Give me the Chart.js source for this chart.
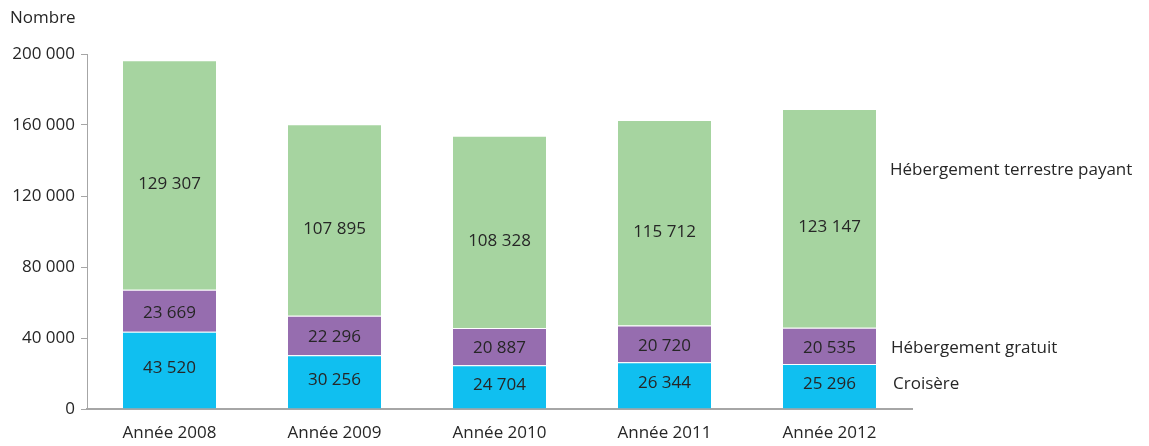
<!DOCTYPE html>
<html lang="fr">
<head>
    <meta charset="UTF-8">
    <title>Nombre de visiteurs par type d'hébergement</title>
    <script src="https://cdn.jsdelivr.net/npm/chart.js"></script>
    <style>
        html, body {
            margin: 0;
            padding: 0;
            background: #fff;
        }
        .chart-container {
            width: 1149px;
            height: 446px;
            position: relative;
        }
    </style>
</head>
<body>
    <div class="chart-container">
        <canvas id="chart"></canvas>
    </div>

    <script>
        const years = ['Année 2008', 'Année 2009', 'Année 2010', 'Année 2011', 'Année 2012'];
        const croisiere = [43520, 30256, 24704, 26344, 25296];
        const gratuit = [23669, 22296, 20887, 20720, 20535];
        const terrestre = [129307, 107895, 108328, 115712, 123147];
        const seriesNames = ['Croisère', 'Hébergement gratuit', 'Hébergement terrestre payant'];
        const yTicks = [0, 40000, 80000, 120000, 160000, 200000];

        const FONT = '"Open Sans", "Noto Sans", sans-serif';
        const TEXT = '#262626';

        function fmt(n) {
            return String(n).replace(/\B(?=(\d{3})+(?!\d))/g, ' ');
        }

        // values inside the segments + series names on the right
        const labelsPlugin = {
            id: 'labels',
            afterDatasetsDraw(chart) {
                const ctx = chart.ctx;
                const y = chart.scales.y;
                const offsets = [-2, 2, 9];
                ctx.save();
                ctx.font = '17px ' + FONT;
                ctx.fillStyle = TEXT;
                ctx.textAlign = 'center';
                ctx.textBaseline = 'middle';
                chart.data.datasets.forEach((ds, i) => {
                    chart.getDatasetMeta(i).data.forEach((bar, j) => {
                        const cy = (bar.y + bar.base) / 2 + offsets[i];
                        ctx.fillText(fmt(ds.data[j]), bar.x, cy);
                    });
                });

                // series names next to the last bar
                const anchors = [14100, 34400, 134600];
                const xs = [893, 891, 890];
                ctx.textAlign = 'left';
                seriesNames.forEach((name, i) => {
                    ctx.fillText(name, xs[i], y.getPixelForValue(anchors[i]));
                });

                ctx.fillText('Nombre', 10, 18);
                ctx.restore();
            }
        };

        new Chart(document.getElementById('chart'), {
            type: 'bar',
            data: {
                labels: years,
                datasets: [
                    { label: seriesNames[0], data: croisiere, backgroundColor: '#10BFF0' },
                    { label: seriesNames[1], data: gratuit, backgroundColor: '#966DAF' },
                    { label: seriesNames[2], data: terrestre, backgroundColor: '#A6D4A0' }
                ].map(d => Object.assign(d, {
                    categoryPercentage: 1,
                    barPercentage: 0.564,
                    borderWidth: { top: 1, left: 0, right: 0, bottom: 0 },
                    borderColor: 'rgba(255,255,255,0.5)',
                    borderSkipped: false
                }))
            },
            options: {
                responsive: true,
                maintainAspectRatio: false,
                animation: false,
                layout: {
                    padding: { left: 0, right: 237, top: 54, bottom: 0 }
                },
                plugins: {
                    legend: { display: false },
                    tooltip: { enabled: false }
                },
                scales: {
                    x: {
                        stacked: true,
                        grid: { display: false, drawTicks: false },
                        border: { color: '#a6a6a6', width: 2 },
                        ticks: {
                            padding: 14,
                            color: TEXT,
                            font: { family: FONT, size: 17 }
                        },
                        afterFit(scale) { scale.height = 37; }
                    },
                    y: {
                        stacked: true,
                        min: 0,
                        max: 200000,
                        afterBuildTicks(scale) {
                            scale.ticks = yTicks.map(v => ({ value: v }));
                        },
                        grid: {
                            drawOnChartArea: false,
                            drawTicks: true,
                            tickLength: 6,
                            color: '#a6a6a6'
                        },
                        border: { color: '#a6a6a6', width: 1 },
                        ticks: {
                            padding: 6,
                            color: TEXT,
                            font: { family: FONT, size: 17 },
                            callback: v => fmt(v)
                        },
                        afterFit(scale) { scale.width = 87; }
                    }
                }
            },
            plugins: [labelsPlugin]
        });
    </script>
</body>
</html>
